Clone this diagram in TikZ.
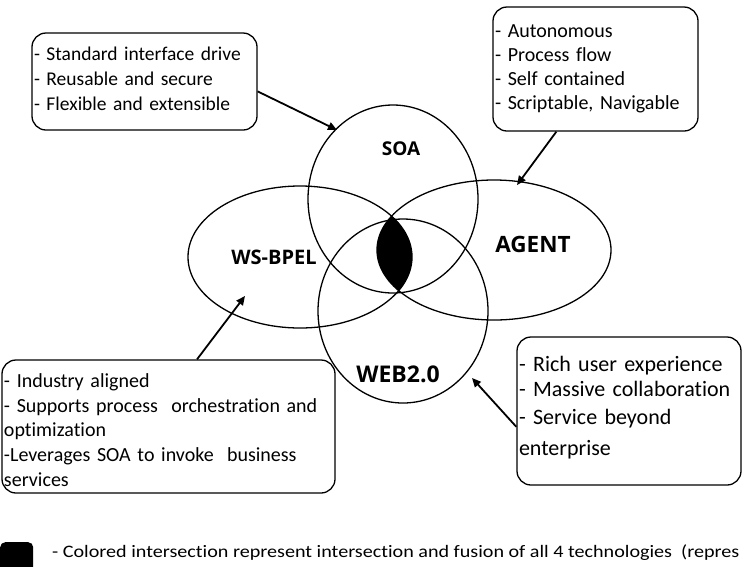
\documentclass[tikz,border=0pt]{standalone}
\usepackage{fontspec}
\setmainfont{Carlito}[Ligatures=NoCommon]
\newfontfamily\lblfont{Open Sans}
\usetikzlibrary{arrows.meta,shapes.geometric}
\begin{document}
\begin{tikzpicture}[x=1pt,y=-1pt,
  ring/.style={draw, ellipse, line width=1.3pt, inner sep=0pt},
  note/.style={draw, line width=1.3pt, rounded corners=14pt, align=left, inner xsep=2pt, inner ysep=0pt},
  pointer/.style={line width=1.8pt, -{Triangle[length=9pt,width=8pt]}},
  lbl/.style={font=\lblfont\bfseries}]
\useasboundingbox (0,0) rectangle (743,566);

% lens (intersection)
\begin{scope}
  \clip (300,257) ellipse [x radius=112pt, y radius=71pt];
  \fill (494,250) ellipse [x radius=117pt, y radius=70pt];
\end{scope}

\node[ring, minimum width=170pt, minimum height=188pt] (soa) at (393,199) {};
\node[ring, minimum width=170pt, minimum height=184pt] (web) at (403,311) {};
\node[ring, minimum width=224pt, minimum height=142pt] (bpel) at (300,257) {};
\node[ring, minimum width=234pt, minimum height=140pt] (agent) at (494,250) {};

\node[lbl, font=\lblfont\bfseries\fontsize{19}{22}\selectfont] (soal) at (401,149) {SOA};
\node[lbl, font=\lblfont\bfseries\fontsize{22.5}{26}\selectfont] (agentl) at (533,244) {AGENT};
\node[lbl, font=\lblfont\bfseries\fontsize{20}{23}\selectfont] (bpell) at (274,257) {WS-BPEL};
\node[lbl, font=\lblfont\bfseries\fontsize{23}{26}\selectfont] (webl) at (398,374) {WEB2.0};

\node[note, text width=221pt, minimum width=225pt, minimum height=97pt, font=\fontsize{19.5}{25}\selectfont] (b1) at (144.5,81.5)
  {- Standard interface drive\\- Reusable and secure\\- Flexible and extensible\rule[-5pt]{0pt}{1pt}};
\node[note, text width=201pt, minimum width=205pt, minimum height=124pt, font=\fontsize{20}{24}\selectfont] (b2) at (595.5,69)
  {- Autonomous\\- Process flow\\- Self contained\\- Scriptable, Navigable};
\node[note, text width=329pt, minimum width=333pt, minimum height=133pt, font=\fontsize{20}{24.8}\selectfont] (b3) at (168.5,426.5)
  {\rule{0pt}{21pt}- Industry aligned\\- Supports process\ \ orchestration and\\optimization\\-Leverages SOA to invoke\ \ business\\services};
\node[note, text width=220pt, minimum width=224pt, minimum height=148pt, font=\fontsize{22}{28}\selectfont] (b4) at (629,411)
  {- Rich user experience\\[-3pt]- Massive collaboration\\- Service beyond\\[3pt]enterprise\rule[-10pt]{0pt}{1pt}};

\coordinate (t1) at (337,130);
\coordinate (t2) at (517,185);
\coordinate (t3) at (245,296);
\coordinate (t4) at (472,378);
\draw[pointer] (b1.-5) -- (t1);
\draw[pointer] (b2.238) -- (t2);
\draw[pointer] (b3.67) -- (t3);
\draw[pointer] (b4.188) -- (t4);

\node[fill, rounded corners=5pt, minimum width=33pt, minimum height=32pt, anchor=north west, inner sep=0pt] (key) at (0,542) {};
\node[anchor=base west, inner sep=0pt, font=\fontsize{17.5}{20}\selectfont] (keytext) at (52,557)
  {\scalebox{1.15}[1]{- Colored intersection represent intersection and fusion of all 4 technologies\ \ (repres}};
\end{tikzpicture}
\end{document}
